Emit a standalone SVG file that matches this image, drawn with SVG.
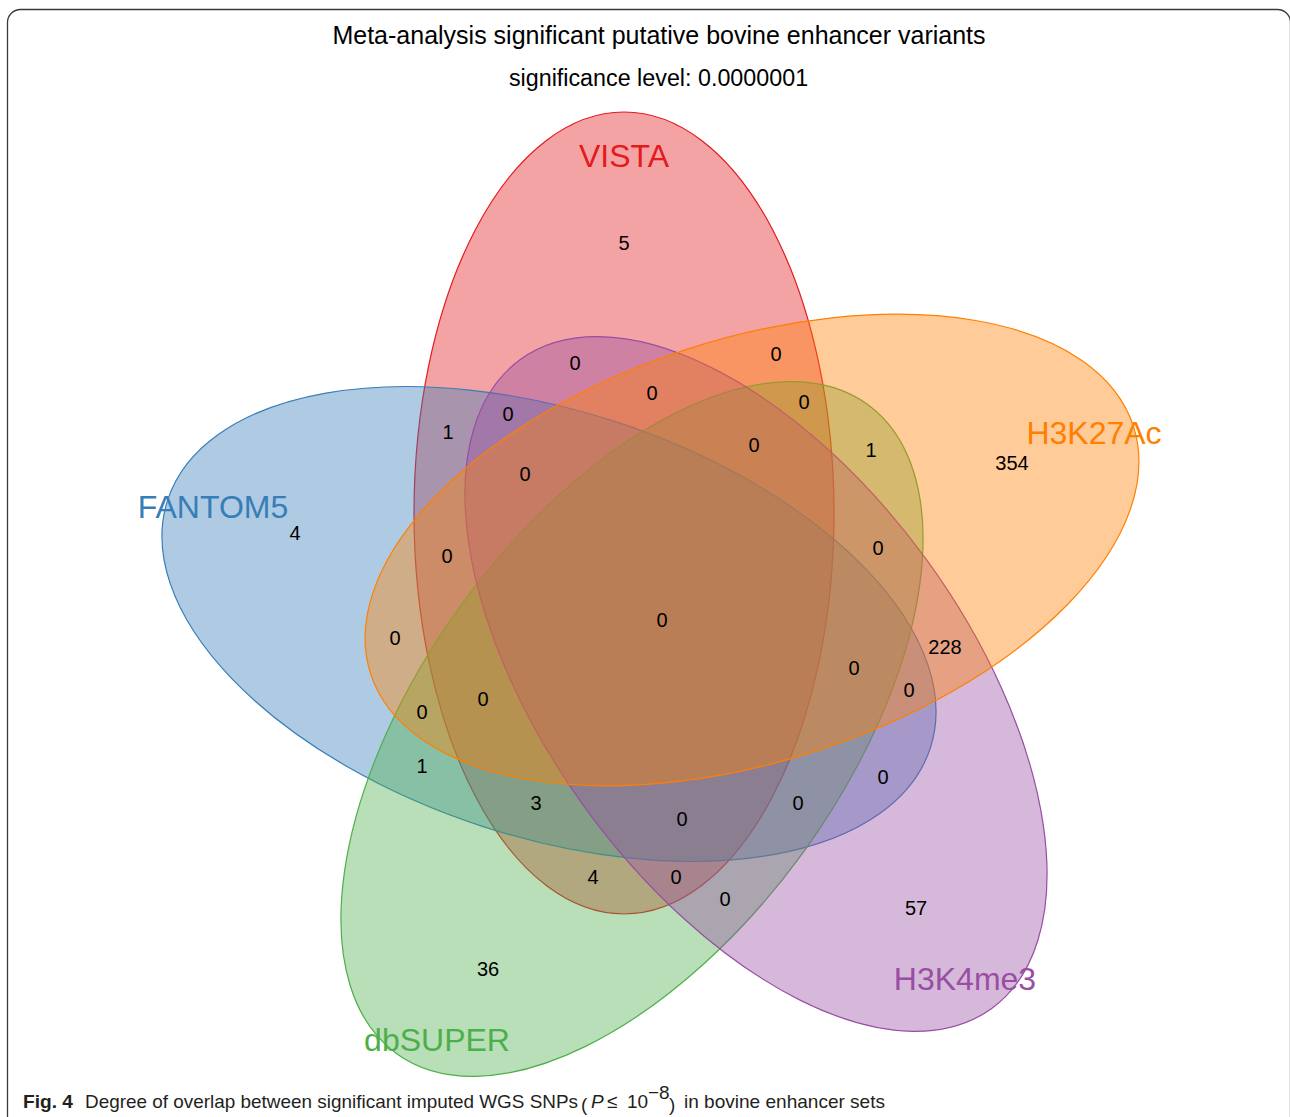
<svg xmlns="http://www.w3.org/2000/svg" width="1290" height="1117" viewBox="0 0 1290 1117">
<style>
.ell{fill-opacity:0.4;stroke-width:1.2}
.num{font-family:"Liberation Sans",Arial,sans-serif;font-size:20px;fill:#000;text-anchor:middle}
.lab{font-family:"Liberation Sans",Arial,sans-serif;font-size:32px;text-anchor:middle}
.ttl{font-family:"Liberation Sans",Arial,sans-serif;fill:#000;text-anchor:middle}
.cap{font-family:"Liberation Sans Narrow","Liberation Sans",Arial,sans-serif;font-size:19px;fill:#231f20}
</style>
<rect x="0" y="0" width="1290" height="1117" fill="#fff"/>
<rect x="7.5" y="9.5" width="1283" height="1140" rx="13" fill="none" stroke="#3a3a3a" stroke-width="1.3"/>
<text class="ttl" x="659" y="44" font-size="25">Meta-analysis significant putative bovine enhancer variants</text>
<text class="ttl" x="658.5" y="86" font-size="23.3">significance level: 0.0000001</text>
<g id="sets">
<g id="VISTA"><ellipse class="ell" cx="624" cy="513" rx="210" ry="401" fill="#E41A1C" stroke="#E41A1C"/></g>
<g id="FANTOM5"><ellipse class="ell" cx="0" cy="0" rx="401" ry="213" transform="translate(549,624) rotate(18)" fill="#377EB8" stroke="#377EB8"/></g>
<g id="dbSUPER"><ellipse class="ell" cx="0" cy="0" rx="401" ry="211" transform="translate(632,729) rotate(-54)" fill="#4DAF4A" stroke="#4DAF4A"/></g>
<g id="H3K4me3"><ellipse class="ell" cx="0" cy="0" rx="401" ry="211" transform="translate(756,684) rotate(54)" fill="#984EA3" stroke="#984EA3"/></g>
<g id="H3K27Ac"><ellipse class="ell" cx="0" cy="0" rx="401" ry="211" transform="translate(752,550) rotate(-18)" fill="#FF7F00" stroke="#FF7F00"/></g>
</g>
<g id="counts">
<text class="num" x="624" y="250">5</text>
<text class="num" x="575" y="370">0</text>
<text class="num" x="776" y="361">0</text>
<text class="num" x="652" y="400">0</text>
<text class="num" x="508" y="421">0</text>
<text class="num" x="804" y="409">0</text>
<text class="num" x="448" y="439">1</text>
<text class="num" x="754" y="452">0</text>
<text class="num" x="871" y="457">1</text>
<text class="num" x="1012" y="470">354</text>
<text class="num" x="525" y="481">0</text>
<text class="num" x="295" y="540">4</text>
<text class="num" x="878" y="555">0</text>
<text class="num" x="447" y="563">0</text>
<text class="num" x="662" y="627">0</text>
<text class="num" x="395" y="645">0</text>
<text class="num" x="945" y="654">228</text>
<text class="num" x="854" y="675">0</text>
<text class="num" x="909" y="697">0</text>
<text class="num" x="483" y="706">0</text>
<text class="num" x="422" y="719">0</text>
<text class="num" x="422" y="773">1</text>
<text class="num" x="883" y="784">0</text>
<text class="num" x="536" y="810">3</text>
<text class="num" x="798" y="810">0</text>
<text class="num" x="682" y="826">0</text>
<text class="num" x="593" y="884">4</text>
<text class="num" x="676" y="884">0</text>
<text class="num" x="725" y="906">0</text>
<text class="num" x="916" y="915">57</text>
<text class="num" x="488" y="976">36</text>
</g>
<g id="labels">
<text class="lab" x="624" y="167" fill="#E41A1C">VISTA</text>
<text class="lab" x="213" y="518" fill="#377EB8">FANTOM5</text>
<text class="lab" x="1094" y="444" fill="#FF7F00">H3K27Ac</text>
<text class="lab" x="965" y="990" fill="#984EA3">H3K4me3</text>
<text class="lab" x="437" y="1051" fill="#4DAF4A">dbSUPER</text>
</g>
<g id="caption">
<text class="cap" x="23" y="1108" font-weight="bold" textLength="50" lengthAdjust="spacingAndGlyphs">Fig. 4</text>
<text class="cap" x="85" y="1108" textLength="493" lengthAdjust="spacingAndGlyphs">Degree of overlap between significant imputed WGS SNPs</text>
<text class="cap" x="581" y="1111" font-size="28" font-weight="300">(</text>
<text class="cap" x="591" y="1108" font-style="italic">P</text>
<text class="cap" x="607" y="1108">≤</text>
<text class="cap" x="627" y="1108">10</text>
<text class="cap" x="648" y="1099" font-size="13">−8</text>
<text class="cap" x="669" y="1111" font-size="28" font-weight="300">)</text>
<text class="cap" x="684" y="1108" textLength="201" lengthAdjust="spacingAndGlyphs">in bovine enhancer sets</text>
</g>
</svg>
